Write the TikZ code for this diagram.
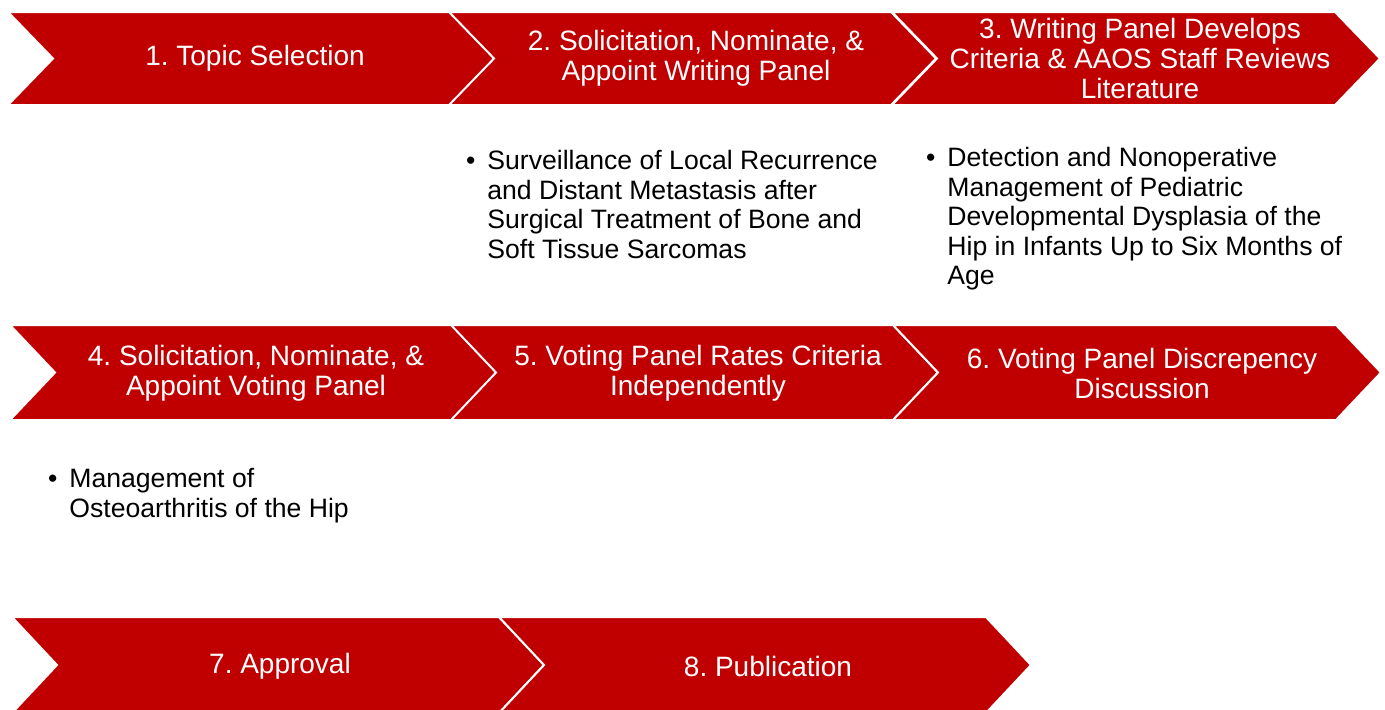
\documentclass[tikz,border=0pt]{standalone}
\usepackage{fontspec}
\setmainfont{Liberation Sans}
\usetikzlibrary{positioning}
\definecolor{aaosred}{RGB}{192,0,0}
\frenchspacing

\begin{document}
\begin{tikzpicture}[x=0.5pt, y=-0.5pt,
    chevron/.style={fill=aaosred, draw=white, line width=1pt, line join=miter},
    stage/.style={text=white, align=center, inner sep=0pt,
        font=\fontsize{14}{15}\selectfont},
    note/.style={text=black, align=left, anchor=north west, inner sep=0pt,
        font=\fontsize{13.3}{14.75}\selectfont}
]
\useasboundingbox (0,0) rectangle (1385,709);
\clip (0,0) rectangle (1385,709);

% chevrons: left x / top / bottom / width
\foreach \x/\t/\b/\w in {8/12/105/442, 449/12/105/442, 892/12/105/443,
                        10/325/420/442, 451/325/420/442, 893/325/420/443,
                        12/617/713/487, 499/617/713/487}
    \draw[chevron] (\x,\t) -- (\x+\w,\t) -- (\x+\w+45,{(\t+\b)/2})
        -- (\x+\w,\b) -- (\x,\b) -- (\x+45,{(\t+\b)/2}) -- cycle;

% stage labels
\node[stage] (topic)   at (255,58)  {1. Topic Selection};
\node[stage] (writing) at (696,58)  {2. Solicitation, Nominate, \&\\Appoint Writing Panel};
\node[stage] (review)  at (1140,58) {3. Writing Panel Develops\\Criteria \& AAOS Staff Reviews\\Literature};
\node[stage] (voting)  at (256,373) {4. Solicitation, Nominate, \&\\Appoint Voting Panel};
\node[stage] (rates)   at (698,373) {5. Voting Panel Rates Criteria\\Independently};
\node[stage] (discuss) at (1142,373) {6. Voting Panel Discrepency\\Discussion};
\node[stage] (approve) at (280,666) {7. Approval};
\node[stage] (publish) at (768,666) {8. Publication};

% topics under the stages
\node[note] (sarcoma) at (487,150) {\llap{\textbullet\hspace{6pt}}Surveillance of Local Recurrence\\
    and Distant Metastasis after\\Surgical Treatment of Bone and\\Soft Tissue Sarcomas};
\node[note] (ddh) at (947,147) {\llap{\textbullet\hspace{6pt}}Detection and Nonoperative\\
    Management of Pediatric\\Developmental Dysplasia of the\\Hip in Infants Up to Six Months of\\Age};
\node[note] (oa) at (69,468) {\llap{\textbullet\hspace{6pt}}Management of\\Osteoarthritis of the Hip};

\end{tikzpicture}
\end{document}
